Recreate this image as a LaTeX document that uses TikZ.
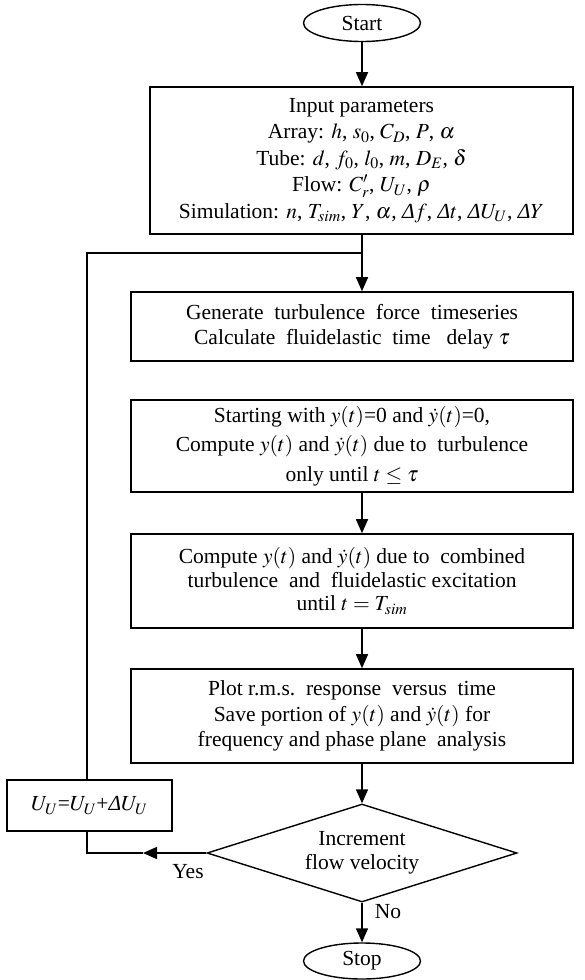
\documentclass[tikz,border=0pt]{standalone}
\usepackage{mathptmx}
\usepackage{fontspec}
\setmainfont{Liberation Serif}
\usetikzlibrary{shapes.geometric,arrows.meta}

\newcommand{\Dlt}{\textit{Δ}}

\begin{document}
\begin{tikzpicture}[x=1pt,y=-1pt,
  every node/.style={font=\fontsize{21.5}{25.5}\selectfont},
  line/.style={line width=1.4pt},
  flow/.style={line width=1.4pt,-{Triangle[length=14pt,width=12pt]}},
  procbox/.style={draw,line width=1.6pt,rectangle,align=center,inner sep=0pt},
  terminal/.style={draw,line width=1.4pt,ellipse,inner sep=0pt},
  decision/.style={draw,line width=1.4pt,diamond,aspect=3.16,inner sep=0pt,align=center}]

\useasboundingbox (0,0) rectangle (585,980);

% terminals
\node[terminal,minimum width=117pt,minimum height=37pt] (start) at (362,23) {Start};
\node[terminal,minimum width=117pt,minimum height=36pt] (stop) at (362,961) {Stop};

% input parameters
\node[procbox,minimum width=423pt,minimum height=147pt,
      font=\fontsize{21.5}{26.5}\selectfont] (in) at (361.5,160.5)
  {Input parameters\\
   Array: $h$, $s_0$, $C_D$, $P$, $\alpha$\\
   Tube: $d$, $f_0$, $l_0$, $m$, $D_E$, $\delta$\\
   Flow: $C'_r$, $U_U$, $\rho$\\
   Simulation: $n$, $T_{sim}$, $Y$, $\alpha$, \Dlt$f$, \Dlt$t$, \Dlt$U_U$, \Dlt$Y$};

% processing steps
\node[procbox,minimum width=442pt,minimum height=69pt] (gen) at (352,326.5)
  {Generate\ \ turbulence\ \ force\ \ timeseries\\
   Calculate\ \ fluidelastic\ \ time\ \ \ delay $\tau$};
\node[procbox,minimum width=442pt,minimum height=92pt,
      font=\fontsize{21.5}{29.5}\selectfont] (init) at (352,446)
  {Starting with $y(t)$=0 and $\dot{y}(t)$=0,\\
   Compute $y(t)$ and $\dot{y}(t)$ due to\ \ turbulence\\
   only until $t\le\tau$};
\node[procbox,minimum width=442pt,minimum height=94pt,
      font=\fontsize{21.5}{23.5}\selectfont] (comb) at (352,581)
  {Compute $y(t)$ and $\dot{y}(t)$ due to\ \ combined\\
   turbulence\ \ and\ \ fluidelastic excitation\\
   until $t=T_{sim}$};
\node[procbox,minimum width=442pt,minimum height=94pt] (plot) at (352,716)
  {Plot r.m.s.\ \ response\ \ versus\ \ time\\
   Save portion of $y(t)$ and $\dot{y}(t)$ for\\
   frequency and phase plane\ \ analysis};

% decision and velocity update
\node[decision,minimum width=310pt,minimum height=98pt,
      font=\fontsize{21.5}{24}\selectfont] (dec) at (362,853)
  {Increment\\flow velocity};
\node[procbox,minimum width=165pt,minimum height=51pt] (upd) at (89.5,805.5)
  {$U_U$=$U_U$+\Dlt$U_U$};

% connectors in the main column
\coordinate (join) at (362,253);
\coordinate (loopTop) at (87,253);
\coordinate (loopBot) at (87,853);
\coordinate (yesTip) at (143,853);

\draw[flow] (start) -- (start |- in.north);
\draw[line] (start |- in.south) -- (join);
\draw[flow] (join) -- (join |- gen.north);
\draw[flow] (join |- init.south) -- (join |- comb.north);
\draw[flow] (join |- comb.south) -- (join |- plot.north);
\draw[flow] (join |- plot.south) -- (dec.north);
\draw[flow] (dec.south) -- (stop.north);

% feedback loop
\draw[flow] (dec.west) -- (yesTip);
\draw[line] (yesTip) -- (loopBot) -- (upd.south -| loopBot);
\draw[line] (upd.north -| loopTop) -- (loopTop) -- (join);

% branch labels
\node (yes) at (188,872) {Yes};
\node (no) at (388,912) {No};
\end{tikzpicture}
\end{document}
